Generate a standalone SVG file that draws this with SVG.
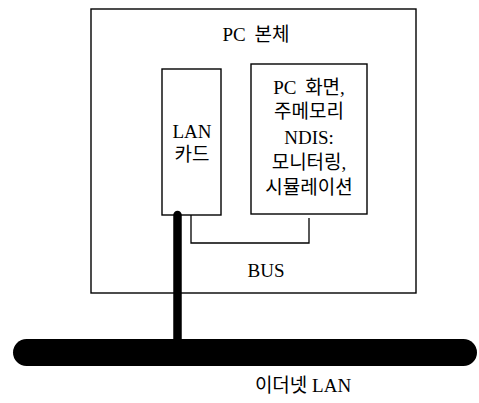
<svg xmlns="http://www.w3.org/2000/svg" width="479" height="403" viewBox="0 0 479 403">
<style>
.box{fill:#fff;stroke:#000;stroke-width:1.4}
.ln{fill:none;stroke:#000;stroke-width:1.3}
text{font-family:"Liberation Serif","Noto Sans CJK KR",serif;font-size:19px;fill:#000;text-anchor:middle;dominant-baseline:central}
</style>
<rect width="479" height="403" fill="#fff"/>
<g id="pc">
<rect class="box" x="91" y="9" width="325" height="284"/>
<text x="256" y="34" word-spacing="4">PC 본체</text>
</g>
<g id="lancard">
<rect class="box" x="162" y="69" width="59" height="146"/>
<text x="192" y="131">LAN</text>
<text x="192" y="154">카드</text>
</g>
<g id="pcmem">
<rect class="box" x="251" y="64" width="116" height="150"/>
<text x="309" y="87" word-spacing="4">PC 화면,</text>
<text x="309" y="111">주메모리</text>
<text x="309" y="137">NDIS:</text>
<text x="309" y="162">모니터링,</text>
<text x="309" y="187">시뮬레이션</text>
</g>
<g id="bus">
<text x="266" y="270">BUS</text>
</g>
<g id="ethernet">
<rect x="13" y="339" width="464" height="27" rx="13.5" fill="#000"/>
<text x="303" y="385">이더넷 LAN</text>
</g>
<g id="connectors">
<polyline class="ln" points="191,215 191,243 309,243 309,218"/>
<line x1="177.5" y1="215" x2="177.5" y2="345" stroke="#000" stroke-width="8.5" stroke-linecap="round"/>
</g>
</svg>
